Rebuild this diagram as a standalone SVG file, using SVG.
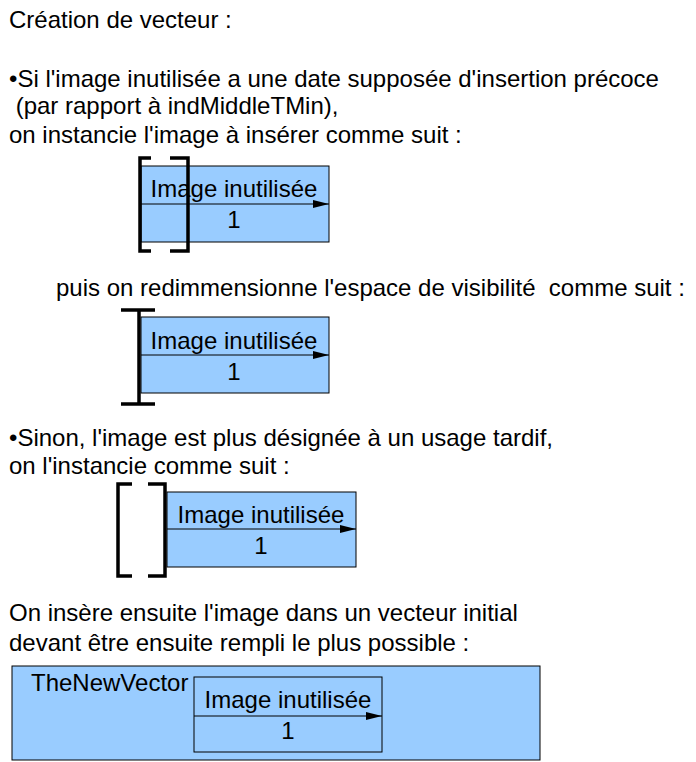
<svg xmlns="http://www.w3.org/2000/svg" width="696" height="762" viewBox="0 0 696 762">
<style>
text{font-family:"Liberation Sans",Arial,sans-serif;font-size:24px;fill:#000}
.box{fill:#99ccff;stroke:#000;stroke-width:1}
.br{fill:none;stroke:#000;stroke-width:3.5}
.ln{stroke:#000;stroke-width:1;fill:none}
.c{text-anchor:middle}
</style>
<defs>
<marker id="ah" viewBox="0 0 16 8" refX="16" refY="4" markerWidth="16" markerHeight="8" markerUnits="userSpaceOnUse" orient="auto">
<path d="M0,0 L16,4 L0,8 Z" fill="#000"/>
</marker>
</defs>
<rect width="696" height="762" fill="#fff"/>
<g id="texts">
<text x="9" y="28">Création de vecteur :</text>
<text x="9" y="87">•Si l'image inutilisée a une date supposée d'insertion précoce</text>
<text x="9" y="114" xml:space="preserve"> (par rapport à indMiddleTMin),</text>
<text x="9" y="143">on instancie l'image à insérer comme suit :</text>
<text x="56" y="296" xml:space="preserve">puis on redimmensionne l'espace de visibilité  comme suit :</text>
<text x="9" y="446">•Sinon, l'image est plus désignée à un usage tardif,</text>
<text x="9" y="474">on l'instancie comme suit :</text>
<text x="9" y="621">On insère ensuite l'image dans un vecteur initial</text>
<text x="9" y="651">devant être ensuite rempli le plus possible :</text>
</g>
<g id="node1">
<rect class="box" x="141" y="166" width="188" height="76"/>
<text class="c" x="234" y="197">Image inutilisée</text>
<text class="c" x="234" y="228">1</text>
</g>
<g id="node2">
<rect class="box" x="141" y="317" width="188" height="76"/>
<text class="c" x="234" y="349">Image inutilisée</text>
<text class="c" x="234" y="380">1</text>
</g>
<g id="node3">
<rect class="box" x="167" y="492" width="189" height="75"/>
<text class="c" x="261" y="523">Image inutilisée</text>
<text class="c" x="261" y="554">1</text>
</g>
<g id="node4">
<rect class="box" x="12" y="666" width="528" height="94"/>
<text x="31" y="691">TheNewVector</text>
<rect class="box" x="194" y="677" width="188" height="75"/>
<text class="c" x="288" y="708">Image inutilisée</text>
<text class="c" x="288" y="739">1</text>
</g>
<g id="brackets">
<path class="br" d="M151,158 H140 V251 H151"/>
<path class="br" d="M170,158 H188 V251 H170"/>
<path class="br" d="M121,310 H155 M139,310 V404 M121,404 H155"/>
<path class="br" d="M132,484 H118 V576 H132"/>
<path class="br" d="M148,484 H165 V576 H148"/>
</g>
<g id="connectors">
<line class="ln" x1="141" y1="204" x2="329" y2="204" marker-end="url(#ah)"/>
<line class="ln" x1="141" y1="355" x2="329" y2="355" marker-end="url(#ah)"/>
<line class="ln" x1="167" y1="529" x2="356" y2="529" marker-end="url(#ah)"/>
<line class="ln" x1="194" y1="716" x2="382" y2="716" marker-end="url(#ah)"/>
</g>
</svg>
